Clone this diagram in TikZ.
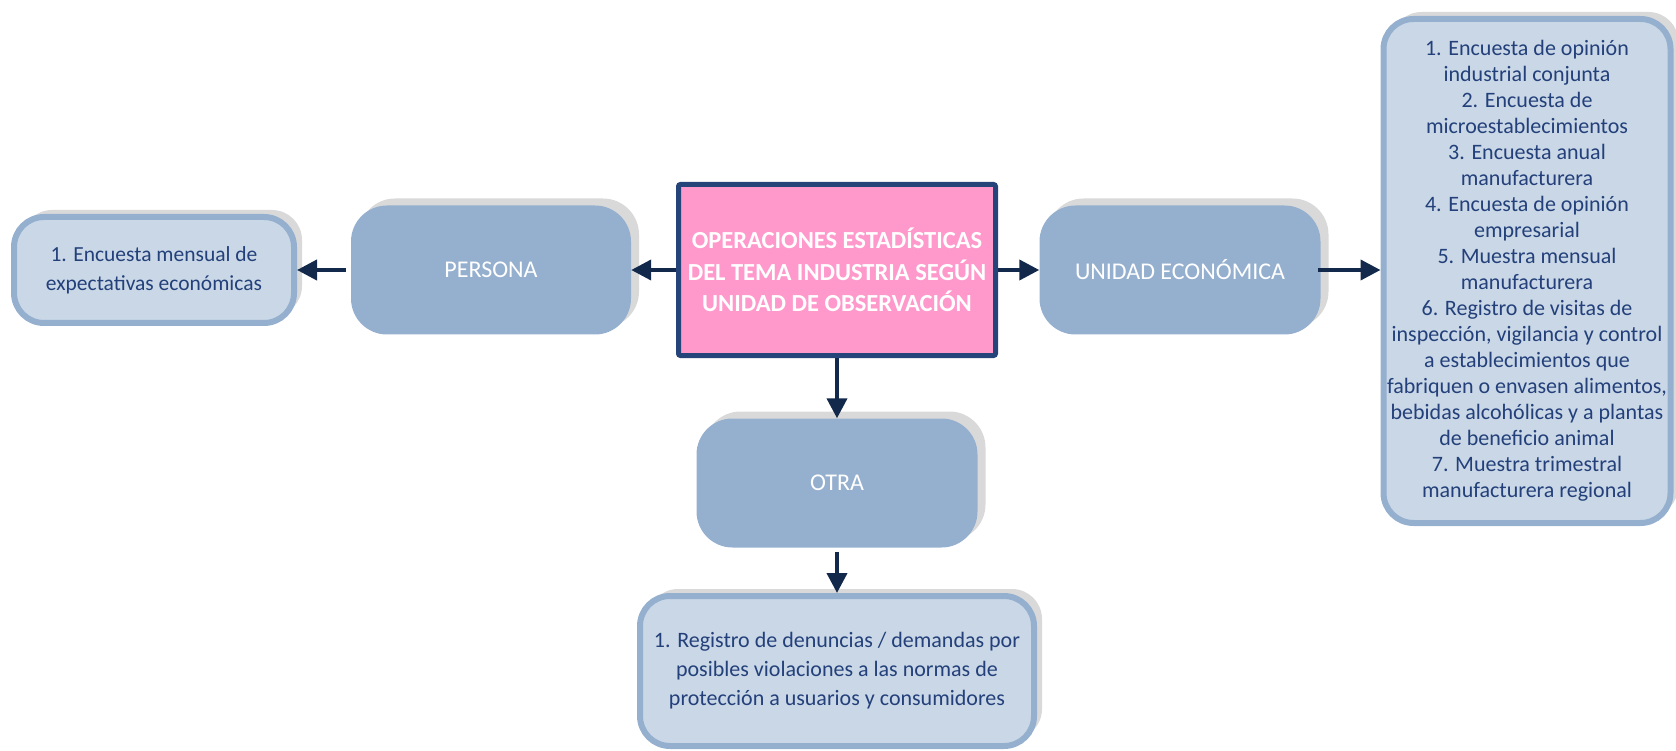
\documentclass[tikz,border=0pt]{standalone}
\usepackage{fontspec}
\setmainfont{Carlito}
\usetikzlibrary{shadows,arrows.meta}

\definecolor{boxblue}{RGB}{149,176,207}
\definecolor{lightblue}{RGB}{201,215,230}
\definecolor{shadowgray}{RGB}{217,217,217}
\definecolor{navy}{RGB}{19,41,75}
\definecolor{framenavy}{RGB}{36,68,122}
\definecolor{txtblue}{RGB}{35,64,122}
\definecolor{pinkbox}{RGB}{255,153,204}

\tikzset{
  unitbox/.style={rounded corners=36pt, fill=boxblue, text=white, align=center,
    general shadow={shadow xshift=8pt, shadow yshift=7pt, fill=shadowgray},
    font=\fontsize{24}{30}\selectfont, inner sep=0pt},
  listbox/.style={rounded corners=30pt, fill=lightblue, draw=boxblue, line width=6pt,
    text=txtblue, align=center,
    general shadow={shadow xshift=8pt, shadow yshift=7pt, fill=shadowgray},
    font=\fontsize{22}{26}\selectfont, inner sep=0pt},
  link/.style={navy, line width=4pt, -{Triangle[length=20pt,width=20pt]}}
}

\begin{document}
\begin{tikzpicture}[x=1pt,y=-1pt]
\useasboundingbox (0,0) rectangle (1676,751);

% centre
\node (tema) [fill=pinkbox, draw=framenavy, line width=5pt, rounded corners=2pt,
  minimum width=317pt, minimum height=171pt, text=white, align=center,
  font=\bfseries\fontsize{24.5}{31.5}\selectfont, inner sep=0pt] at (837,270)
  {OPERACIONES ESTADÍSTICAS\\DEL TEMA INDUSTRIA SEGÚN\\UNIDAD DE OBSERVACIÓN};

% unidades de observacion
\node (persona) [unitbox, minimum width=280pt, minimum height=129pt] at (491,270) {PERSONA};
\node (unidad) [unitbox, minimum width=281pt, minimum height=129pt] at (1180,270) {UNIDAD ECONÓMICA};
\node (otra) [unitbox, minimum width=281pt, minimum height=129pt] at (837,483) {OTRA};

% operaciones
\node (opPersona) [listbox, minimum width=280pt, minimum height=106pt,
  font=\fontsize{21.5}{29}\selectfont] at (154,270)
  {1. Encuesta mensual de\\expectativas económicas};
\node (opUnidad) [listbox, minimum width=287pt, minimum height=504pt] at (1527,271)
  {1. Encuesta de opinión\\industrial conjunta\\2. Encuesta de\\microestablecimientos\\
   3. Encuesta anual\\manufacturera\\4. Encuesta de opinión\\empresarial\\
   5. Muestra mensual\\manufacturera\\6. Registro de visitas de\\
   inspección, vigilancia y control\\a establecimientos que\\
   fabriquen o envasen alimentos,\\bebidas alcohólicas y a plantas\\
   de beneficio animal\\7. Muestra trimestral\\manufacturera regional};
\node (opOtra) [listbox, minimum width=394pt, minimum height=150pt,
  font=\fontsize{22}{29}\selectfont] at (837,671)
  {1. Registro de denuncias / demandas por\\posibles violaciones a las normas de\\protección a usuarios y consumidores};

% conectores
\draw [link] (tema.west) -- (persona.east);
\draw [link] ([xshift=-5pt]persona.west) -- (opPersona.east);
\draw [link] (tema.east) -- (unidad.west);
\draw [link] ([xshift=-3pt]unidad.east) -- (unidad.east -| opUnidad.west);
\draw [link] (tema.south) -- (otra.north);
\draw [link] ([yshift=-4pt]otra.south) -- (opOtra.north);

\end{tikzpicture}
\end{document}
